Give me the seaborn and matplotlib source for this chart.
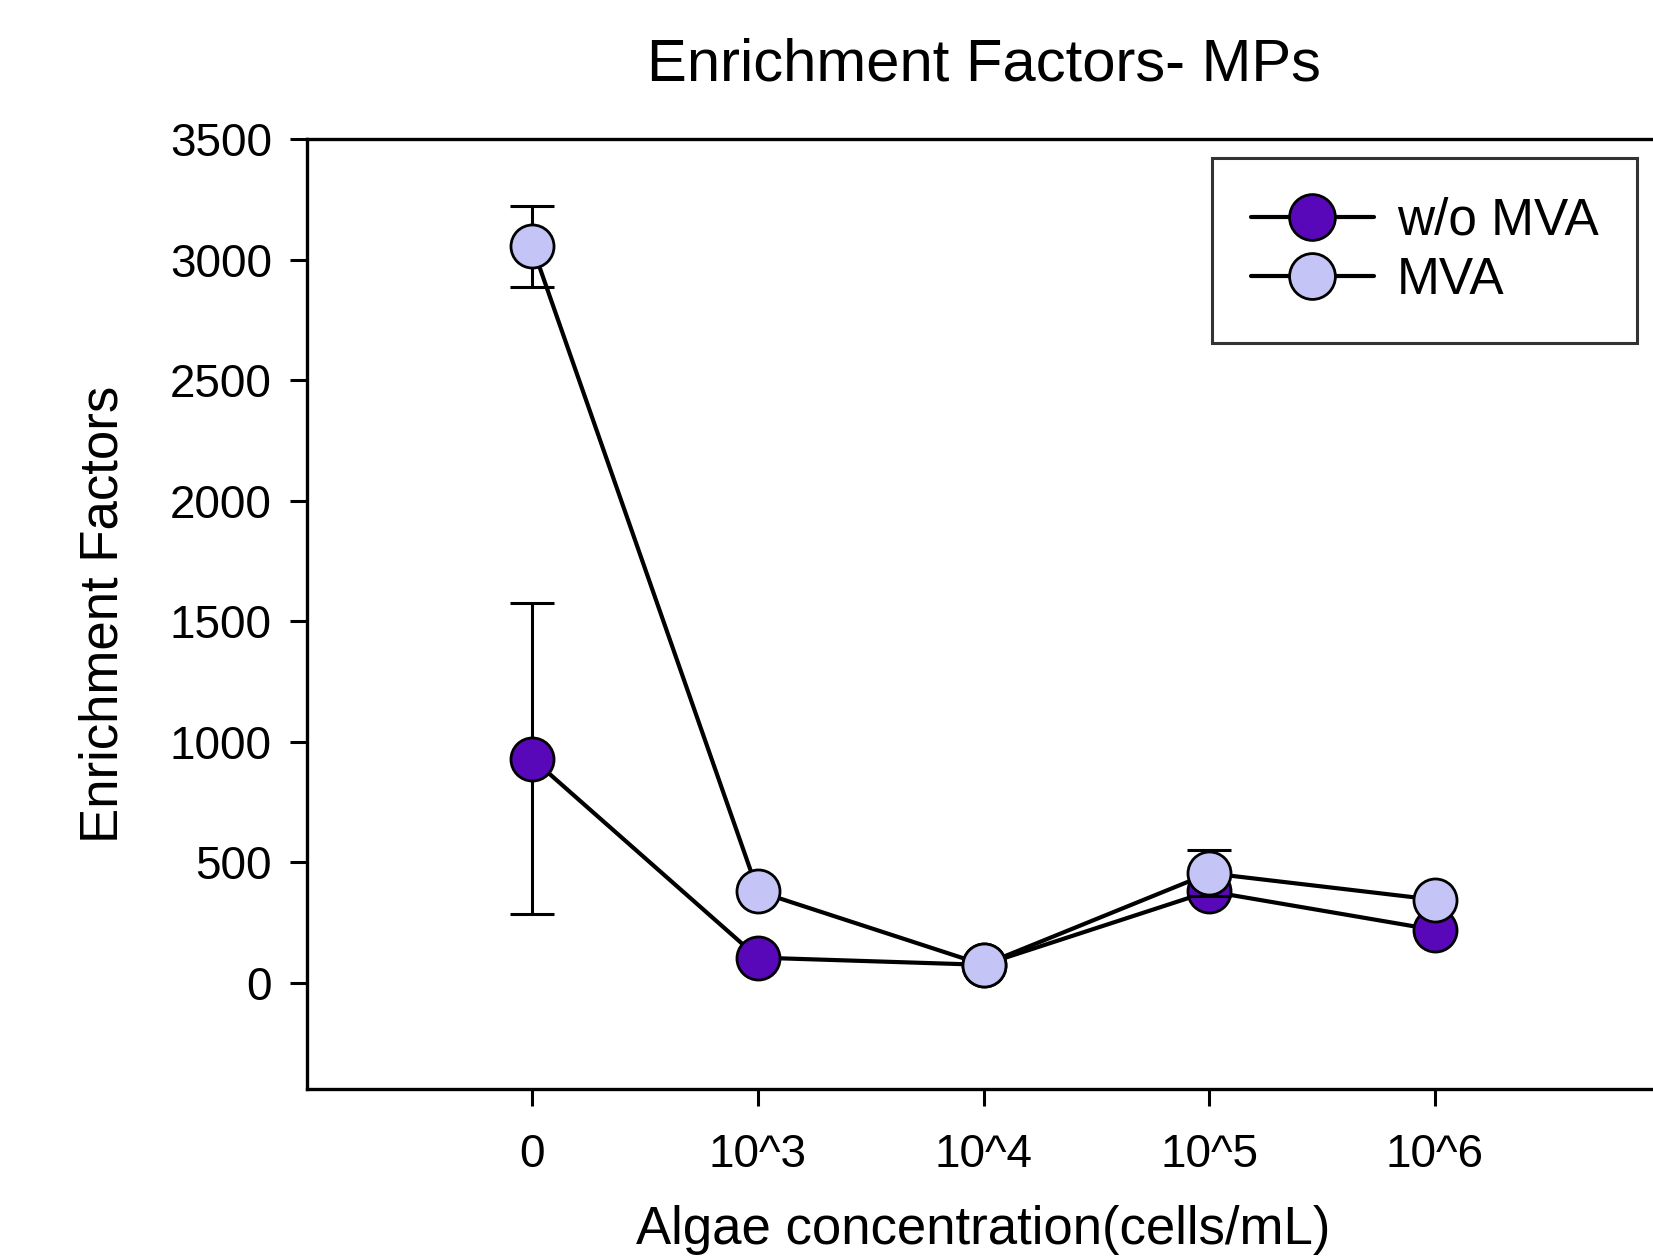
import numpy as np
import pandas as pd
import seaborn as sns
from matplotlib import pyplot as plt

sns.set_style("ticks")
plt.rcParams["font.family"] = ["Liberation Sans", "DejaVu Sans"]
plt.rcParams["text.color"] = "black"
plt.rcParams["axes.labelcolor"] = "black"
plt.rcParams["xtick.color"] = "black"
plt.rcParams["ytick.color"] = "black"

# values
concentrations = ["0", "10^3", "10^4", "10^5", "10^6"]
wo_mva = [930, 105, 75, 380, 220]
wo_mva_err = [645, 0, 0, 0, 0]
mva = [3055, 380, 75, 455, 345]
mva_err = [168, 0, 0, 95, 0]

series_names = ["w/o MVA", "MVA"]
colors = {"w/o MVA": "#5808b8", "MVA": "#c4c4f6"}

pos = np.arange(len(concentrations))
df = pd.DataFrame({
    "pos": np.concatenate([pos, pos]),
    "value": wo_mva + mva,
    "group": ["w/o MVA"] * len(pos) + ["MVA"] * len(pos),
})

fig = plt.figure(figsize=(16.53, 12.6), dpi=100)
# right spine sits just past the image edge, as in the reference
ax = fig.add_axes([0.1855, 0.1357, 0.819, 0.754])

# error bars first, so markers sit on top
for name, vals, errs, z in [("w/o MVA", wo_mva, wo_mva_err, 1), ("MVA", mva, mva_err, 3)]:
    e = np.array(errs)
    m = e > 0
    ax.errorbar(pos[m], np.array(vals)[m], yerr=e[m], fmt="none", ecolor="black",
                elinewidth=2.2, capsize=16, capthick=2.2, zorder=z)

sns.lineplot(data=df, x="pos", y="value", hue="group", hue_order=series_names,
             palette={k: "black" for k in series_names}, legend=False,
             linewidth=3.0, ax=ax, sort=False, zorder=2)
for name, vals, z in [("w/o MVA", wo_mva, 2.5), ("MVA", mva, 4.5)]:
    ax.plot(pos, vals, linestyle="none", marker="o", markersize=31,
            markerfacecolor=colors[name], markeredgecolor="black",
            markeredgewidth=2.0, zorder=z)

# legend proxies
handles = [plt.Line2D([], [], color="black", linewidth=3.0, marker="o", markersize=33,
                      markerfacecolor=colors[n], markeredgecolor="black",
                      markeredgewidth=2.0) for n in series_names]
leg = ax.legend(handles, series_names, loc="upper right", bbox_to_anchor=(0.983, 0.98),
                fontsize=37, frameon=True, fancybox=False, edgecolor="black",
                handlelength=2.4, handletextpad=0.45, labelspacing=0.2,
                borderpad=0.75, borderaxespad=0)
leg.get_frame().set_linewidth(2.2)

ax.set_xlim(-1, 5)
ax.set_ylim(-440, 3500)
ax.set_xticks(pos)
ax.set_xticklabels(concentrations)
ax.set_yticks(np.arange(0, 3501, 500))
ax.tick_params(axis="both", labelsize=33, width=2.2, length=12, direction="out")
ax.tick_params(axis="x", pad=20)
ax.tick_params(axis="y", pad=13)
for s in ax.spines.values():
    s.set_linewidth(2.4)
    s.set_color("black")

ax.set_xlabel("Algae concentration(cells/mL)", fontsize=38, labelpad=20)
ax.set_ylabel("Enrichment Factors", fontsize=38, labelpad=30)
ax.set_title("Enrichment Factors- MPs", fontsize=43, pad=42)

fig.savefig("out.png", dpi=100)
